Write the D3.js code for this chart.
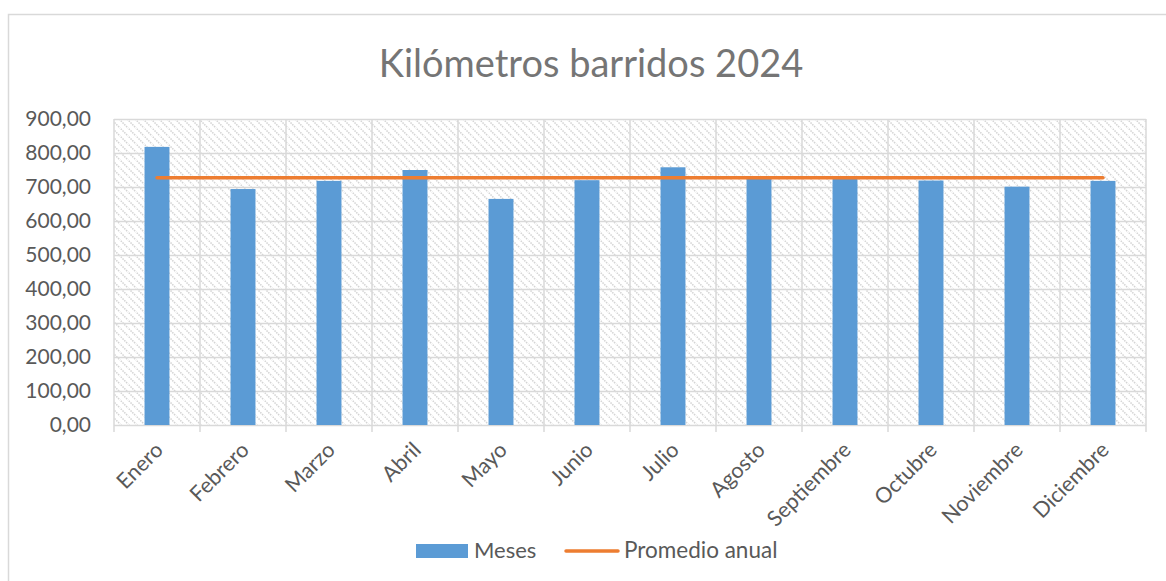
<!doctype html>
<html lang="es">
<head>
<meta charset="utf-8">
<script src="https://d3js.org/d3.v7.min.js"></script>
<style>
  html, body { margin: 0; padding: 0; background: #fff; }
  svg { display: block; }
</style>
</head>
<body>
<div id="chart"></div>
<script>
// data
const meses = ["Enero", "Febrero", "Marzo", "Abril", "Mayo", "Junio", "Julio",
               "Agosto", "Septiembre", "Octubre", "Noviembre", "Diciembre"];
const kilometros = [818, 694, 718, 750, 665, 720, 758, 730, 726, 719, 701, 718];
const promedio = [727, 727, 727, 727, 727, 727, 727, 727, 727, 727, 727, 727];
const yTicks = [0, 100, 200, 300, 400, 500, 600, 700, 800, 900];

const width = 1166, height = 581;
const plot = {left: 114, right: 1146, top: 119, bottom: 425};
const font = "Lato, 'Open Sans', sans-serif";
const grid = "#d9d9d9";
const textColor = "#595959";

const svg = d3.select("#chart").append("svg")
    .attr("width", width)
    .attr("height", height)
    .style("font-family", font);

// hatch fill of the plot area
const defs = svg.append("defs");
defs.append("pattern")
    .attr("id", "hatch")
    .attr("patternUnits", "userSpaceOnUse")
    .attr("width", 8)
    .attr("height", 8)
  .append("path")
    .attr("d", "M-1,-1L9,9M-1,7L1,9M7,-1L9,1")
    .attr("stroke", "#d4d4d4")
    .attr("stroke-width", 1.5)
    .attr("stroke-dasharray", "1.5,1");

// chart frame (runs off to the right)
svg.append("rect")
    .attr("x", 8.5).attr("y", 14.5)
    .attr("width", 1200).attr("height", 600)
    .attr("fill", "#fff")
    .attr("stroke", grid)
    .attr("stroke-width", 1.5);

const x = d3.scaleBand()
    .domain(meses)
    .range([plot.left, plot.right])
    .paddingInner(0.71)
    .paddingOuter(0.355);

const y = d3.scaleLinear()
    .domain([0, 900])
    .range([plot.bottom, plot.top]);

const fmt = v => v.toFixed(2).replace(".", ",");

// plot area
svg.append("rect")
    .attr("x", plot.left).attr("y", plot.top)
    .attr("width", plot.right - plot.left)
    .attr("height", plot.bottom - plot.top)
    .attr("fill", "url(#hatch)");

// horizontal gridlines + y labels
const yAxis = d3.axisLeft(y).tickValues(yTicks).tickSize(-(plot.right - plot.left)).tickPadding(23).tickFormat(fmt);
const gy = svg.append("g")
    .attr("transform", `translate(${plot.left},0)`)
    .call(yAxis);
gy.select(".domain").remove();
gy.selectAll(".tick line").attr("stroke", grid).attr("stroke-width", 1.5);
gy.selectAll(".tick text")
    .attr("fill", textColor)
    .style("font-size", "21px")
    .style("font-family", font);

// vertical gridlines at category boundaries, with ticks below axis
const step = x.step();
const bounds = meses.map(m => x(m) - (step - x.bandwidth()) / 2).concat([plot.right]);
svg.append("g").selectAll("line")
    .data(bounds)
    .join("line")
    .attr("x1", d => d).attr("x2", d => d)
    .attr("y1", plot.top).attr("y2", plot.bottom + 7)
    .attr("stroke", grid)
    .attr("stroke-width", 1.5);

// bars
svg.append("g").selectAll("rect")
    .data(kilometros)
    .join("rect")
    .attr("x", (d, i) => x(meses[i]))
    .attr("y", d => y(d))
    .attr("width", x.bandwidth())
    .attr("height", d => y(0) - y(d))
    .attr("fill", "#5b9bd5");

// average line
const line = d3.line()
    .x((d, i) => x(meses[i]) + x.bandwidth() / 2)
    .y(d => y(d));
svg.append("path")
    .datum(promedio)
    .attr("d", line)
    .attr("fill", "none")
    .attr("stroke", "#ed7d31")
    .attr("stroke-width", 3.5)
    .attr("stroke-linecap", "round");

// x labels, rotated
svg.append("g").selectAll("text")
    .data(meses)
    .join("text")
    .attr("transform", d => `translate(${x(d) + x.bandwidth() / 2 + 2},${plot.bottom + 21}) rotate(-45)`)
    .attr("text-anchor", "end")
    .attr("dy", "0.35em")
    .attr("fill", textColor)
    .style("font-size", "21.5px")
    .text(d => d);

// title
svg.append("text")
    .attr("x", 591)
    .attr("y", 77)
    .attr("text-anchor", "middle")
    .attr("fill", "#757575")
    .style("font-size", "38px")
    .text("Kilómetros barridos 2024");

// legend
const lg = svg.append("g");
lg.append("rect")
    .attr("x", 416).attr("y", 544)
    .attr("width", 52).attr("height", 14)
    .attr("fill", "#5b9bd5");
lg.append("text")
    .attr("x", 474).attr("y", 558)
    .attr("fill", textColor)
    .style("font-size", "22px")
    .text("Meses");
lg.append("line")
    .attr("x1", 566).attr("x2", 618)
    .attr("y1", 551).attr("y2", 551)
    .attr("stroke", "#ed7d31")
    .attr("stroke-width", 3.5)
    .attr("stroke-linecap", "round");
lg.append("text")
    .attr("x", 624).attr("y", 558)
    .attr("fill", textColor)
    .style("font-size", "22.5px")
    .text("Promedio anual");
</script>
</body>
</html>
